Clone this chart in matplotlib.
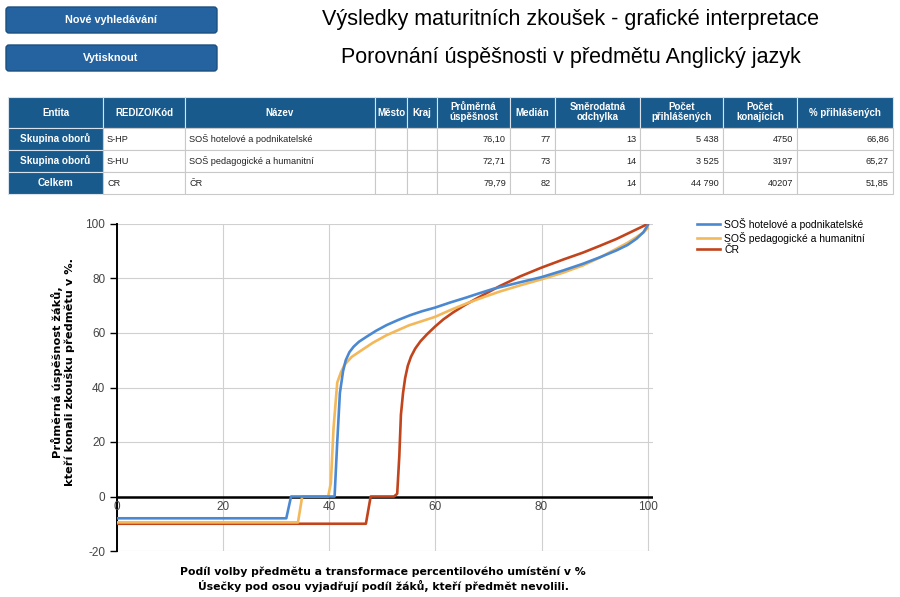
import matplotlib
matplotlib.use("Agg")
import matplotlib.pyplot as plt
from matplotlib.patches import FancyBboxPatch, Rectangle

plt.rcParams["axes.unicode_minus"] = False

# --- data -----------------------------------------------------------------
buttons = ["Nové vyhledávání", "Vytisknout"]
title1 = "Výsledky maturitních zkoušek - grafické interpretace"
title2 = "Porovnání úspěšnosti v předmětu Anglický jazyk"

columns = ["Entita", "REDIZO/Kód", "Název", "Město", "Kraj", "Průměrná\núspěšnost",
           "Medián", "Směrodatná\nodchylka", "Počet\npřihlášených", "Počet\nkonajících",
           "% přihlášených"]
entity = ["Skupina oborů", "Skupina oborů", "Celkem"]
codes = ["S-HP", "S-HU", "CR"]
names = ["SOŠ hotelové a podnikatelské", "SOŠ pedagogické a humanitní", "ČR"]
towns = ["", "", ""]
regions = ["", "", ""]
avg_score = ["76,10", "72,71", "79,79"]
median = ["77", "73", "82"]
std_dev = ["13", "14", "14"]
registered = ["5 438", "3 525", "44 790"]
took_exam = ["4750", "3197", "40207"]
pct_registered = ["66,86", "65,27", "51,85"]

labels = ["SOŠ hotelové a podnikatelské", "SOŠ pedagogické a humanitní", "ČR"]
hp_x = [0, 31.9, 32.8, 41.0, 41.5, 42.0, 42.6, 43.1, 43.8, 44.6, 45.6, 47.0, 48.8,
        50.8, 53.0, 55.2, 57.5, 59.9, 62.8, 65.8, 68.3, 70.9, 75.5, 80.0, 84.0,
        87.8, 91.0, 94.1, 96.2, 97.9, 99.2, 100]
hp_y = [-8, -8, 0, 0, 20, 38, 46, 50, 53, 55, 56.8, 58.6, 60.8,
        62.9, 64.8, 66.5, 68.0, 69.3, 71.2, 73, 74.6, 76.2, 78.4, 80.5, 82.9,
        85.4, 87.8, 90.3, 92.3, 94.6, 97.0, 99.5]
hu_x = [0, 34.1, 34.9, 39.8, 40.3, 40.8, 41.5, 42.2, 42.9, 44.2, 45.8, 48.2, 50.8,
        55.0, 59.9, 62.8, 65.8, 69.0, 72.1, 76.0, 80.0, 84.0, 87.8, 91.0, 94.1,
        96.2, 97.9, 99.2, 100]
hu_y = [-9.5, -9.5, 0, 0, 5, 25, 41.8, 45.6, 48.4, 51.2, 53.3, 56.4, 59.2,
        62.8, 65.9, 68.4, 70.8, 73.1, 75.2, 77.5, 79.7, 82.1, 84.8, 87.7, 90.9,
        93.1, 95.2, 96.9, 98.5]
cr_x = [0, 46.9, 47.8, 52.2, 52.8, 53.2, 53.5, 53.9, 54.3, 54.8, 55.4, 56.2,
        57.2, 58.4, 59.9, 61.5, 63.3, 65.5, 67.7, 70.0, 72.1, 76.0, 80.0, 84.0,
        87.8, 91.0, 94.1, 97.0, 100]
cr_y = [-10, -10, 0, 0, 1, 15, 30, 38, 43.5, 48.0, 51.3, 54.3,
        57.0, 59.5, 62.3, 65.0, 67.5, 70.2, 72.6, 75.0, 77.2, 80.8, 84.0, 86.9,
        89.5, 92.0, 94.5, 97.2, 100]
colors = ["#4a89d2", "#f2b85a", "#c2441c"]

xticks = [0, 20, 40, 60, 80, 100]
yticks = [-20, 0, 20, 40, 60, 80, 100]

W, H = 900, 597
navy = "#185a8c"
sans = "Liberation Sans"

fig = plt.figure(figsize=(W / 100, H / 100), dpi=100)
fig.patch.set_facecolor("white")

# --- page header (buttons, titles, table) in pixel coordinates -----------
ov = fig.add_axes([0, 0, 1, 1])
ov.set_xlim(0, W)
ov.set_ylim(H, 0)
ov.axis("off")

for i, b in enumerate(buttons):
    y0 = 7 + i * 38
    ov.add_patch(FancyBboxPatch((6, y0), 211, 26, boxstyle="round,pad=0,rounding_size=3",
                                fc="#2563a0", ec="#1b4f80", lw=1))
    ov.text(111, y0 + 13, b, color="white", fontsize=7.8, fontweight="bold",
            ha="center", va="center", family=sans)

ov.text(570, 19, title1, fontsize=15.5, ha="center", va="center", family=sans)
ov.text(571, 57, title2, fontsize=15.5, ha="center", va="center", family=sans)

col_edges = [8, 103, 185, 375, 407, 437, 510, 555, 640, 723, 797, 893]
row_edges = [97, 128, 150, 172, 194]
body = list(zip(entity, codes, names, towns, regions, avg_score, median, std_dev,
                registered, took_exam, pct_registered))

for c, name in enumerate(columns):
    x0, x1 = col_edges[c], col_edges[c + 1]
    ov.add_patch(Rectangle((x0, row_edges[0]), x1 - x0, row_edges[1] - row_edges[0],
                           fc=navy, ec="#d8e2ec", lw=0.8))
    ov.text((x0 + x1) / 2, (row_edges[0] + row_edges[1]) / 2, name, color="white",
            fontsize=7.0, fontweight="bold", ha="center", va="center",
            linespacing=1.0, family=sans)

for r, row in enumerate(body):
    ya, yb = row_edges[r + 1], row_edges[r + 2]
    for c, val in enumerate(row):
        x0, x1 = col_edges[c], col_edges[c + 1]
        if c == 0:
            ov.add_patch(Rectangle((x0, ya), x1 - x0, yb - ya, fc=navy, ec="#d8e2ec", lw=0.8))
            ov.text((x0 + x1) / 2, (ya + yb) / 2, val, color="white", fontsize=7.2,
                    fontweight="bold", ha="center", va="center", family=sans)
        else:
            ov.add_patch(Rectangle((x0, ya), x1 - x0, yb - ya, fc="white", ec="#c9c9c9", lw=0.8))
            if c in (1, 2):
                ov.text(x0 + 4, (ya + yb) / 2, val, color="#222222", fontsize=6.6,
                        ha="left", va="center", family=sans)
            else:
                ov.text(x1 - 4, (ya + yb) / 2, val, color="#222222", fontsize=6.6,
                        ha="right", va="center", family=sans)

# --- chart -----------------------------------------------------------------
ax = fig.add_axes([117 / W, 1 - 551 / H, (653 - 117) / W, (551 - 224) / H])
ax.set_xlim(0, 101)
ax.set_ylim(-20, 100)

for xs, ys, col, lab in zip([hp_x, hu_x, cr_x][::-1], [hp_y, hu_y, cr_y][::-1],
                            colors[::-1], labels[::-1]):
    ax.plot(xs, ys, color=col, lw=1.9, label=lab, zorder=3, solid_joinstyle="round")

ax.set_xticks(xticks)
ax.set_yticks(yticks)
ax.grid(True, color="#d0d0d0", lw=0.8)
ax.set_axisbelow(True)
for s in ["top", "right", "bottom"]:
    ax.spines[s].set_visible(False)
ax.spines["left"].set_color("black")
ax.spines["left"].set_linewidth(1.4)
ax.axhline(0, color="black", lw=1.8, zorder=2)
ax.tick_params(axis="x", length=0, labelbottom=False)
ax.tick_params(axis="y", length=5, width=1, color="black", labelsize=8.5,
               labelcolor="#444444")
for lab in ax.get_yticklabels():
    lab.set_family(sans)
for v in xticks:
    ax.text(v, -1.8, str(v), ha="center", va="top", fontsize=8.5, color="#444444",
            family=sans)

fig.text(63 / W, 1 - 372 / H, "Průměrná úspěšnost žáků,\nkteří konali zkoušku předmětu v %.",
         rotation=90, ha="center", va="center", fontsize=8.2, fontweight="bold",
         multialignment="center", linespacing=1.15)
fig.text(383 / W, 1 - 579 / H,
         "Podíl volby předmětu a transformace percentilového umístění v %\n"
         "Úsečky pod osou vyjadřují podíl žáků, kteří předmět nevolili.",
         ha="center", va="center", fontsize=7.8, fontweight="bold", linespacing=1.3)

handles, hl = ax.get_legend_handles_labels()
fig.legend(handles[::-1], hl[::-1], loc="upper left", bbox_to_anchor=(697 / W, 1 - 218 / H),
           frameon=False, handlelength=2.2, labelspacing=0.15,
           handletextpad=0.4, borderaxespad=0, borderpad=0,
           prop={"family": sans, "size": 7.5})

fig.savefig("out.png", dpi=100, facecolor="white")
